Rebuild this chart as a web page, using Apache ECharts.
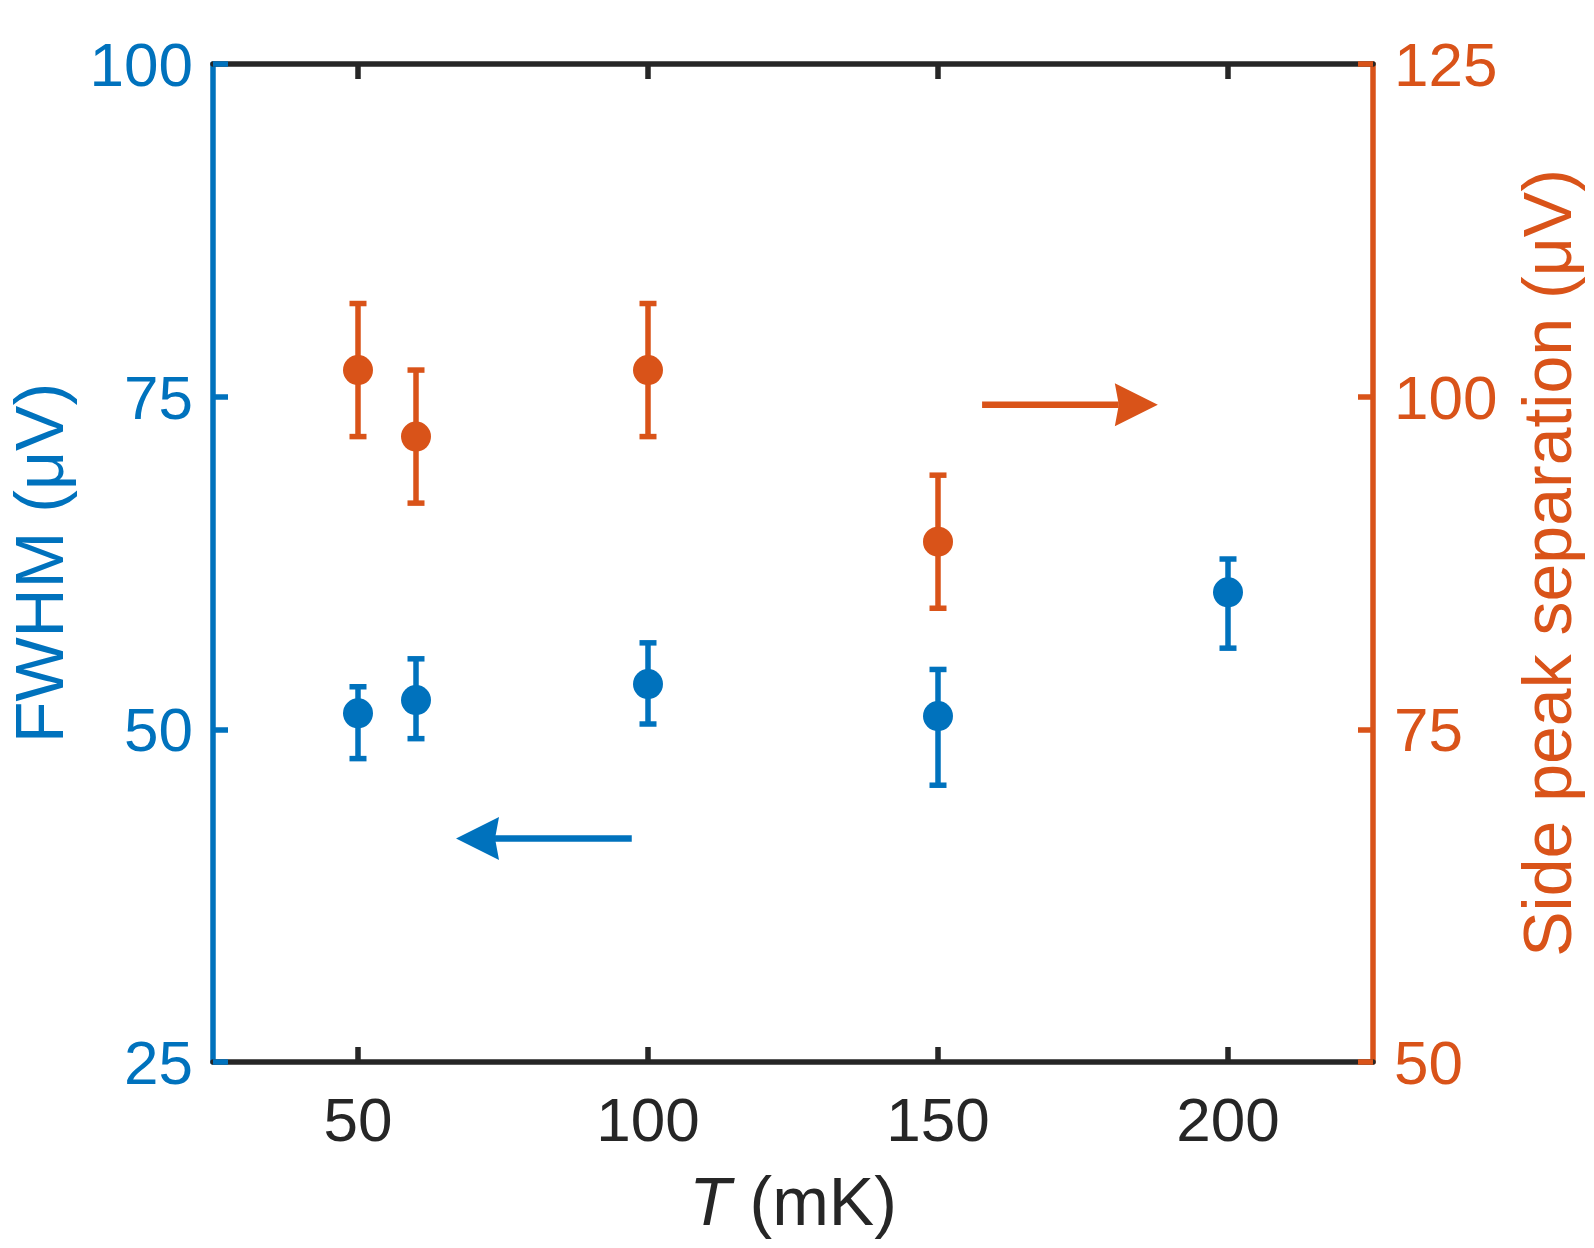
<!DOCTYPE html>
<html style="height: 100%">
<head>
    <meta charset="utf-8">
    <script type="text/javascript" src="https://cdn.jsdelivr.net/npm/echarts@6/dist/echarts.min.js"></script>
    <title>FWHM and side peak separation vs T</title>
</head>
<body style="height: 100%; margin: 0; background: #fff">
<div id="container" style="width: 1594px; height: 1248px"></div>
<script type="text/javascript">
    // temperatures (mK)
    const temps = [50, 60, 100, 150, 200];
    // FWHM (uV), left axis, asymmetric error bars
    const fwhm = [51.2, 52.2, 53.4, 51.0, 60.3];
    const fwhmErrUp = [2.0, 3.1, 3.1, 3.5, 2.5];
    const fwhmErrDown = [3.4, 2.9, 3.0, 5.2, 4.2];
    // side peak separation (uV), right axis
    const sepTemps = [50, 60, 100, 150];
    const sepPeak = [102.0, 97.0, 102.0, 89.1];
    const sepErr = [5.0, 5.0, 5.0, 5.0];
    // annotation arrows: [tailX, tailY, tipX, tipY]
    const arrowFwhm = [97.2, 41.8, 66.9, 41.8];
    const arrowSep = [157.6, 99.4, 187.9, 99.4];
    const xTicks = [50, 100, 150, 200];

    const BLUE = '#0072BD';
    const ORANGE = '#D95319';
    const DARK = '#262626';
    const FONT = "'Liberation Sans', Arial, sans-serif";

    let dom = document.getElementById('container');
    let myChart = echarts.init(dom);

    function errorBar(color) {
        return function (params, api) {
            let x = api.value(0);
            let top = api.coord([x, api.value(2)]);
            let bot = api.coord([x, api.value(1)]);
            let half = 8.5;
            let style = {stroke: color, lineWidth: 5.5};
            return {
                type: 'group',
                children: [
                    {type: 'line', shape: {x1: top[0], y1: top[1], x2: bot[0], y2: bot[1]}, style: style},
                    {type: 'line', shape: {x1: top[0] - half, y1: top[1], x2: top[0] + half, y2: top[1]}, style: style},
                    {type: 'line', shape: {x1: bot[0] - half, y1: bot[1], x2: bot[0] + half, y2: bot[1]}, style: style}
                ]
            };
        };
    }

    function arrow(color) {
        return function (params, api) {
            let tail = api.coord([api.value(0), api.value(1)]);
            let tip = api.coord([api.value(2), api.value(3)]);
            let dx = tip[0] - tail[0], dy = tip[1] - tail[1];
            let len = Math.sqrt(dx * dx + dy * dy);
            let ux = dx / len, uy = dy / len;
            let headLen = 43, headHalf = 21.5, notch = 4;
            let bx = tip[0] - ux * headLen, by = tip[1] - uy * headLen;
            let nx = -uy, ny = ux;
            return {
                type: 'group',
                children: [
                    {
                        type: 'line',
                        shape: {x1: tail[0], y1: tail[1], x2: bx + ux * notch, y2: by + uy * notch},
                        style: {stroke: color, lineWidth: 6.5}
                    },
                    {
                        type: 'polygon',
                        shape: {
                            points: [
                                [tip[0], tip[1]],
                                [bx + nx * headHalf, by + ny * headHalf],
                                [bx + ux * notch, by + uy * notch],
                                [bx - nx * headHalf, by - ny * headHalf]
                            ]
                        },
                        style: {fill: color}
                    }
                ]
            };
        };
    }

    let fwhmBars = temps.map((t, i) => [t, fwhm[i] - fwhmErrDown[i], fwhm[i] + fwhmErrUp[i]]);
    let sepBars = sepTemps.map((t, i) => [t, sepPeak[i] - sepErr[i], sepPeak[i] + sepErr[i]]);

    let option = {
        animation: false,
        backgroundColor: '#fff',
        textStyle: {fontFamily: FONT},
        grid: {left: 213, right: 219, top: 64, bottom: 186},
        xAxis: [
            {
                type: 'value', min: 25, max: 225, position: 'bottom',
                name: '{i|T} (mK)', nameLocation: 'middle', nameGap: 110,
                nameTextStyle: {
                    color: DARK, fontSize: 68, fontFamily: FONT,
                    rich: {i: {fontStyle: 'italic', fontSize: 68, color: DARK, fontFamily: FONT}}
                },
                axisLine: {show: true, lineStyle: {color: DARK, width: 5.5}},
                axisTick: {show: true, inside: true, length: 15, customValues: xTicks, lineStyle: {color: DARK, width: 5.5}},
                axisLabel: {customValues: xTicks, color: DARK, fontSize: 62, margin: 31, fontFamily: FONT},
                splitLine: {show: false}
            },
            {
                type: 'value', min: 25, max: 225, position: 'top',
                axisLine: {show: true, lineStyle: {color: DARK, width: 5.5}},
                axisTick: {show: true, inside: true, length: 15, customValues: xTicks, lineStyle: {color: DARK, width: 5.5}},
                axisLabel: {show: false},
                splitLine: {show: false}
            }
        ],
        yAxis: [
            {
                type: 'value', min: 25, max: 100, interval: 25, position: 'left',
                name: 'FWHM (μV)', nameLocation: 'middle', nameRotate: 90, nameGap: 125,
                nameTextStyle: {color: BLUE, fontSize: 68, fontFamily: FONT},
                axisLine: {show: true, lineStyle: {color: BLUE, width: 5.5}},
                axisTick: {show: true, inside: true, length: 15, lineStyle: {color: BLUE, width: 5.5}},
                axisLabel: {color: BLUE, fontSize: 62, margin: 20, fontFamily: FONT, verticalAlign: 'top', lineHeight: 10},
                splitLine: {show: false}
            },
            {
                type: 'value', min: 50, max: 125, interval: 25, position: 'right',
                name: 'Side peak separation (μV)', nameLocation: 'middle', nameRotate: 90, nameGap: 145,
                nameTextStyle: {color: ORANGE, fontSize: 68, fontFamily: FONT},
                axisLine: {show: true, lineStyle: {color: ORANGE, width: 5.5}},
                axisTick: {show: true, inside: true, length: 15, lineStyle: {color: ORANGE, width: 5.5}},
                axisLabel: {color: ORANGE, fontSize: 62, margin: 21, fontFamily: FONT, verticalAlign: 'top', lineHeight: 10},
                splitLine: {show: false}
            }
        ],
        series: [
            {
                type: 'custom', name: 'fwhm err', xAxisIndex: 0, yAxisIndex: 0,
                renderItem: errorBar(BLUE), data: fwhmBars, z: 2, silent: true
            },
            {
                type: 'custom', name: 'sep err', xAxisIndex: 0, yAxisIndex: 1,
                renderItem: errorBar(ORANGE), data: sepBars, z: 2, silent: true
            },
            {
                type: 'scatter', name: 'FWHM', xAxisIndex: 0, yAxisIndex: 0,
                data: temps.map((t, i) => [t, fwhm[i]]),
                symbol: 'circle', symbolSize: 30, itemStyle: {color: BLUE, opacity: 1}, z: 3
            },
            {
                type: 'scatter', name: 'Side peak separation', xAxisIndex: 0, yAxisIndex: 1,
                data: sepTemps.map((t, i) => [t, sepPeak[i]]),
                symbol: 'circle', symbolSize: 30, itemStyle: {color: ORANGE, opacity: 1}, z: 3
            },
            {
                type: 'custom', name: 'arrow left', xAxisIndex: 0, yAxisIndex: 0,
                renderItem: arrow(BLUE), data: [arrowFwhm], silent: true
            },
            {
                type: 'custom', name: 'arrow right', xAxisIndex: 0, yAxisIndex: 1,
                renderItem: arrow(ORANGE), data: [arrowSep], silent: true
            }
        ]
    };
    if (option && typeof option === 'object') {
        myChart.setOption(option);
    }
</script>
</body>
</html>
